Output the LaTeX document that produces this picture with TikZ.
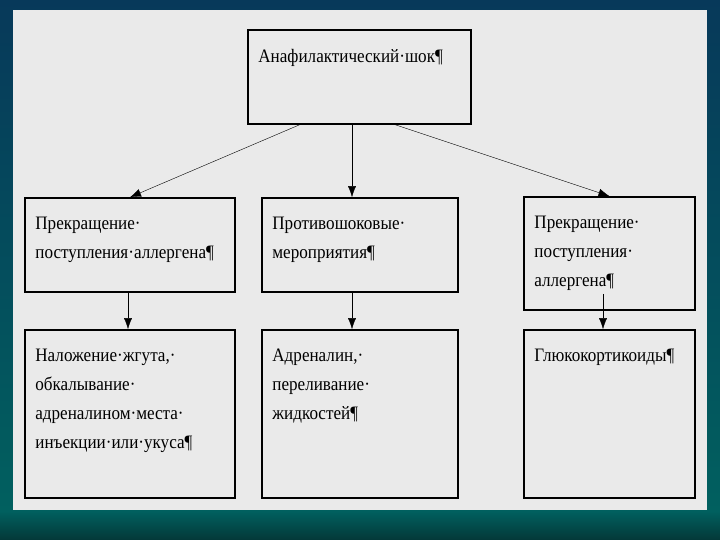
\documentclass[tikz,border=0pt]{standalone}
\usepackage{fontspec}
\setmainfont{Liberation Serif}[FakeStretch=0.9]
\usetikzlibrary{positioning,arrows.meta}
\definecolor{bgtop}{HTML}{07395A}
\definecolor{bgmid}{HTML}{0B5C88}
\definecolor{bgbot}{HTML}{01605F}
\definecolor{bgdeep}{HTML}{033838}
\definecolor{sheet}{HTML}{EAEAEA}

\begin{document}
\begin{tikzpicture}[x=1pt, y=-1pt,
  box/.style={draw, line width=1.6pt, fill=sheet, inner sep=0pt,
              minimum width=#1},
  txt/.style={inner sep=0pt, align=left, anchor=north west,
              font=\fontsize{19}{29}\selectfont},
  >={Latex[length=11pt,width=8pt]}, node distance=20pt and 11pt]
\useasboundingbox (0,0) rectangle (720,540);
% background of the slide
\shade[top color=bgtop, middle color=bgmid, bottom color=bgbot] (0,0) rectangle (720,512);
\shade[top color=bgbot, bottom color=bgdeep] (0,511) rectangle (720,540);
\fill[sheet] (13,10) rectangle (707,510);

\node[box=223pt, minimum height=94pt] (shock) at (359.5,77) {};
\node[box=210pt, minimum height=94pt] (stopA) at (130,245) {};
\node[box=196pt, minimum height=94pt] (antishock) at (360,245) {};
\node[box=171pt, minimum height=113pt] (stopB) at (609.5,253.5) {};
\node[box=210pt, minimum height=168pt] (tourniquet) at (130,414) {};
\node[box=196pt, minimum height=168pt] (adrenaline) at (360,414) {};
\node[box=171pt, minimum height=168pt] (gluco) at (609.5,414) {};

\node[txt, below right=of shock.north west] (shockT) {Анафилактический·шок¶};
\node[txt, below right=of stopA.north west] (stopAT) {Прекращение·\\поступления·аллергена¶};
\node[txt, below right=of antishock.north west] (antishockT) {Противошоковые·\\мероприятия¶};
\node[txt, below right=of stopB.north west] (stopBT) {Прекращение·\\поступления·\\аллергена¶};
\node[txt, below right=of tourniquet.north west] (tourniquetT) {Наложение·жгута,·\\обкалывание·\\адреналином·места·\\инъекции·или·укуса¶};
\node[txt, below right=of adrenaline.north west] (adrenalineT) {Адреналин,·\\переливание·\\жидкостей¶};
\node[txt, below right=of gluco.north west] (glucoT) {Глюкокортикоиды¶};

\draw[->] ([xshift=-60pt]shock.south) -- (stopA.north);
\draw[->] ([xshift=-7.5pt]shock.south) -- ([xshift=-8pt]antishock.north);
\draw[->] ([xshift=36pt]shock.south) -- (stopB.north);
\draw[->] ([xshift=-2pt]stopA.south) -- ([xshift=-2pt]tourniquet.north);
\draw[->] ([xshift=-8pt]antishock.south) -- ([xshift=-8pt]adrenaline.north);
\draw[->] ([xshift=-6.5pt,yshift=17pt]stopB.south) -- ([xshift=-6.5pt]gluco.north);
\end{tikzpicture}
\end{document}
